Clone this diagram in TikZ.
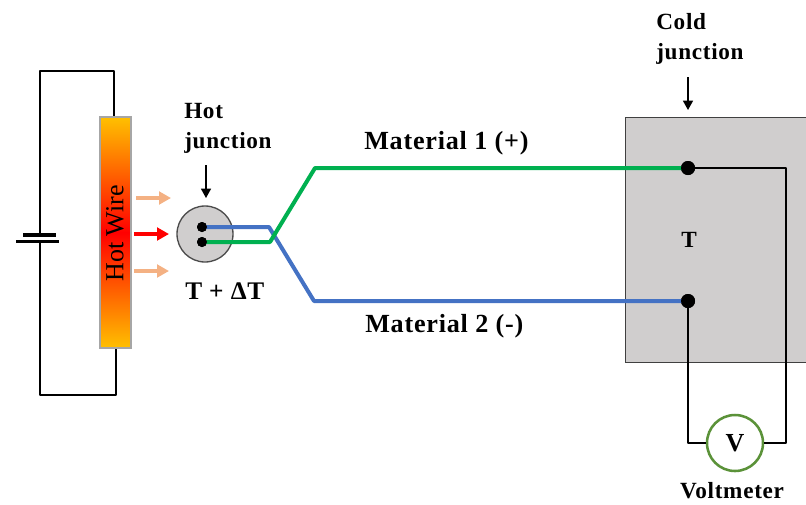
\documentclass[tikz,border=0pt]{standalone}
\usepackage{fontspec}
\setmainfont{Liberation Serif}
\newfontfamily\lblfont[LetterSpace=3]{Liberation Serif Bold}
\usetikzlibrary{arrows.meta,calc}
\definecolor{pgray}{HTML}{D0CECE}
\definecolor{pgreen}{HTML}{00B050}
\definecolor{pblue}{HTML}{4472C4}
\definecolor{ppeach}{HTML}{F4B183}
\definecolor{pgold}{HTML}{FFC000}
\definecolor{pvolt}{HTML}{5B9239}
\tikzset{
  x=0.75pt,y=-0.75pt,
  wire/.style={draw=black,line width=2pt,line join=round},
  thin wire/.style={draw=black,line width=1.8pt,line join=round},
  lead/.style={line width=3pt,line join=round},
  heat/.style={line width=3pt,-{Triangle[length=9pt,width=9.5pt]}},
  pointer/.style={draw=black,line width=1pt,-{Triangle[length=7pt,width=7.5pt]}},
  dotnode/.style={circle,fill=black,inner sep=0pt},
  lbl/.style={font=\lblfont\fontsize{17.4}{22.5}\selectfont,inner sep=0pt,align=left,text=black},
  biglbl/.style={lbl,font=\lblfont\fontsize{19.6}{22.5}\selectfont},
}
\begin{document}
\begin{tikzpicture}
\useasboundingbox (0,0) rectangle (806,504);
% cold block
\node[draw=black!75,fill=pgray,line width=1pt,inner sep=0pt,anchor=north west,
  minimum width=190*0.75pt,minimum height=245*0.75pt] (block) at (624.5,117) {};
% circuit
\coordinate (tl) at (40,71);
\coordinate (tr) at (114,71);
\coordinate (bl) at (40,395);
\coordinate (br) at (116,395);
\coordinate (batS) at (40,235);
\coordinate (batL) at (40,241.5);
\coordinate (wt) at (114,118);
\coordinate (wb) at (116,348);
\draw[wire] (batS) -- (tl) -- (tr) -- (wt);
\draw[wire] (batL) -- (bl) -- (br) -- (wb);
\coordinate (s1) at (23,235); \coordinate (s2) at (56,235);
\coordinate (l1) at (16,241.5); \coordinate (l2) at (59,241.5);
\draw[line width=3pt] (s1) -- (s2);
\draw[line width=2.1pt] (l1) -- (l2);
% hot wire
\fill[top color=pgold,bottom color=red,draw=none] (100,117) rectangle (131,233);
\fill[top color=red,bottom color=pgold,draw=none] (100,232.5) rectangle (131,348);
\draw[draw=black!35,line width=0.8pt] (100,117) rectangle (131,348);
\node[rotate=90,font=\fontsize{19.5}{22}\selectfont,inner sep=0pt] (hw) at (115,233.5) {Hot Wire};
% heat arrows
\coordinate (h1a) at (136,198); \coordinate (h1b) at (171,198);
\coordinate (h2a) at (134,234); \coordinate (h2b) at (169,234);
\coordinate (h3a) at (134,271); \coordinate (h3b) at (169,271);
\draw[heat,ppeach] (h1a) -- (h1b);
\draw[heat,red] (h2a) -- (h2b);
\draw[heat,ppeach] (h3a) -- (h3b);
% hot junction
\node[circle,draw=black!70,fill=pgray,line width=1pt,minimum size=56*0.75pt,inner sep=0pt] (hot) at (205,234) {};
\coordinate (bk1) at (269,227); \coordinate (bk2) at (314,301);
\coordinate (gk1) at (270,242); \coordinate (gk2) at (315,168);
\node[dotnode,minimum size=10*0.75pt] (hd1) at (202,227) {};
\node[dotnode,minimum size=10*0.75pt] (hd2) at (202,242) {};
\node[dotnode,minimum size=14*0.75pt] (cd1) at (688,168) {};
\node[dotnode,minimum size=14*0.75pt] (cd2) at (688,301) {};
\draw[lead,pblue] (hd1.center) -- (bk1) -- (bk2) -- (cd2.center);
\draw[lead,pgreen] (hd2.center) -- (gk1) -- (gk2) -- (cd1.center);
\node[dotnode,minimum size=10*0.75pt] at (hd1) {};
\node[dotnode,minimum size=10*0.75pt] at (hd2) {};
\node[dotnode,minimum size=14*0.75pt] at (cd1) {};
\node[dotnode,minimum size=14*0.75pt] at (cd2) {};
% voltmeter
\node[circle,draw=pvolt,fill=white,line width=1.9pt,minimum size=56*0.75pt,inner sep=0pt,font=\lblfont\fontsize{19.5}{20}\selectfont] (volt) at (735,443) {V};
\coordinate (c1) at (786,168); \coordinate (c2) at (786,443); \coordinate (c3) at (688,443);
\draw[thin wire] (cd1.center) -- (c1) -- (c2) -- (volt.east);
\draw[thin wire] (cd2.center) -- (c3) -- (volt.west);
% pointers
\coordinate (p1) at (206,165); \coordinate (p2) at (206,198);
\coordinate (p3) at (688,77); \coordinate (p4) at (688,110);
\draw[pointer] (p1) -- (p2);
\draw[pointer] (p3) -- (p4);
% labels
\node[lbl,anchor=north west] (hj) at (184,103.5) {Hot\\junction};
\node[lbl,anchor=north west] (cj) at (656,13.5) {Cold\\junction};
\node[biglbl,anchor=base west] (m1) at (364,149) {Material 1 (+)};
\node[biglbl,anchor=base west] (m2) at (365,332) {Material 2 (-)};
\node[lbl,font=\lblfont\fontsize{19}{22.5}\selectfont,anchor=base west] (dt) at (185,299) {T + ΔT};
\node[lbl,anchor=base] (tt) at (689,247) {T};
\node[lbl,anchor=base] (vm) at (732,498) {Voltmeter};
\end{tikzpicture}
\end{document}
